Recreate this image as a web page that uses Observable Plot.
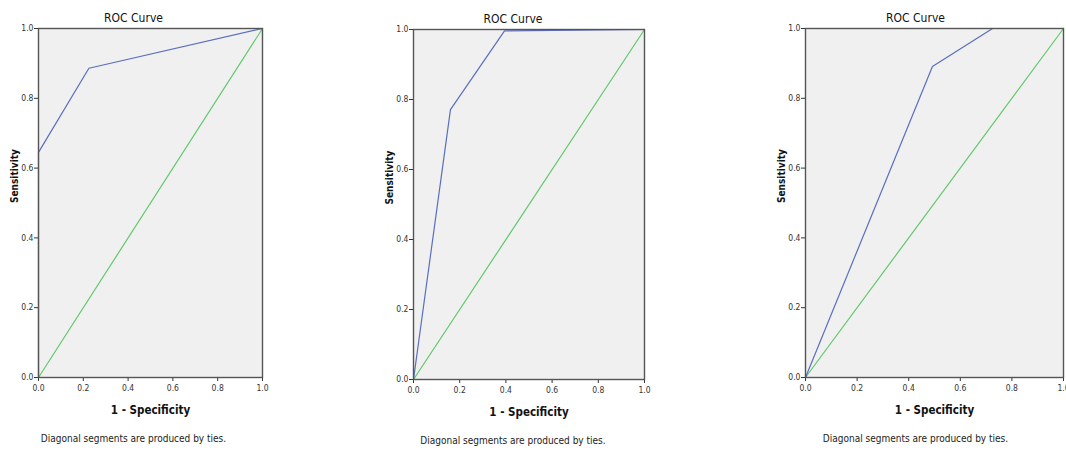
<!DOCTYPE html>
<html><head><meta charset="utf-8">
<script src="https://cdn.jsdelivr.net/npm/d3@7"></script>
<script src="https://cdn.jsdelivr.net/npm/@observablehq/plot@0.6"></script>
<style>
body{margin:0;background:#fff;width:1066px;height:450px;overflow:hidden;position:relative;font-family:"DejaVu Sans Condensed",sans-serif}
.panel{position:absolute;top:0}
</style></head><body>
<div id="p0" class="panel" style="left:0px"></div>
<div id="p1" class="panel" style="left:375px"></div>
<div id="p2" class="panel" style="left:767px"></div>
<script>
// ROC curves (1 - Specificity, Sensitivity)
const roc1X = [0, 0, 0.225, 1];
const roc1Y = [0, 0.645, 0.886, 1];
const roc2X = [0, 0.16, 0.394, 1];
const roc2Y = [0, 0.771, 0.996, 1];
const roc3X = [0, 0.492, 0.725, 1];
const roc3Y = [0, 0.891, 1, 1];
const refX = [0, 1];
const refY = [0, 1];
const tickValues = [0, 0.2, 0.4, 0.6, 0.8, 1.0];
const titleText = "ROC Curve";
const xLabelText = "1 - Specificity";
const yLabelText = "Sensitivity";
const noteText = "Diagonal segments are produced by ties.";

const panels = [
  {id:"p0", xs:roc1X, ys:roc1Y, width:300, mr:38, mt:28, mb:73, titleDx:-17},
  {id:"p1", xs:roc2X, ys:roc2Y, width:300, mr:31, mt:29, mb:71, titleDx:-16},
  {id:"p2", xs:roc3X, ys:roc3Y, width:299, mr:3, mt:28, mb:73, titleDx:-19}
];
const font = '"DejaVu Sans Condensed",sans-serif';
for (const p of panels) {
  const curve = p.xs.map((x,i)=>({x, y:p.ys[i]}));
  const ref = refX.map((x,i)=>({x, y:refY[i]}));
  const chart = Plot.plot({
    width: p.width, height: 450,
    marginLeft: 38, marginRight: p.mr, marginTop: p.mt, marginBottom: p.mb,
    style: {fontFamily: font, fontSize: "8.5px", color: "#333", background: "transparent", overflow: "visible"},
    x: {domain:[0,1], ticks: tickValues, tickFormat: d3.format(".1f"), tickSize: 4, tickPadding: 3, label: null},
    y: {domain:[0,1], ticks: tickValues, tickFormat: d3.format(".1f"), tickSize: 4, tickPadding: 1, label: null},
    marks: [
      Plot.frame({fill:"#f0f0f0", stroke:"none"}),
      Plot.line(ref, {x:"x", y:"y", stroke:"#62c96c", strokeWidth:1.2}),
      Plot.line(curve, {x:"x", y:"y", stroke:"#5a6ec0", strokeWidth:1.2}),
      Plot.frame({stroke:"#555", strokeWidth:1.4}),
      Plot.text([titleText], {frameAnchor:"top", dy:-15, dx:p.titleDx, fontSize:12, fill:"#111", fontFamily:font}),
      Plot.text([xLabelText], {frameAnchor:"bottom", dy:36, fontSize:11.5, fontWeight:"bold", fill:"#111", fontFamily:font}),
      Plot.text([yLabelText], {frameAnchor:"left", dx:-24, rotate:-90, fontSize:10, fontWeight:"bold", fill:"#111", fontFamily:font, letterSpacing:"0.6px"}),
      Plot.text([noteText], {frameAnchor:"bottom", dy:64, dx:p.titleDx, fontSize:10, fill:"#222", fontFamily:font})
    ]
  });
  document.getElementById(p.id).appendChild(chart);
}
</script>
</body></html>
